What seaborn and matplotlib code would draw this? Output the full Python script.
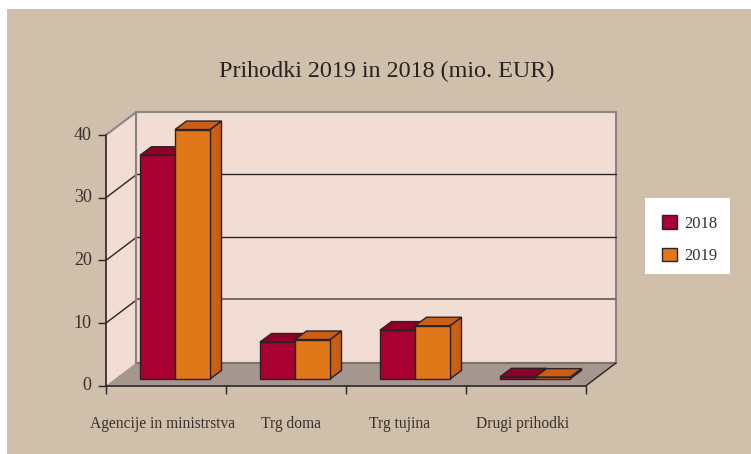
import numpy as np
import pandas as pd
import matplotlib
matplotlib.use("Agg")
import matplotlib.pyplot as plt
from matplotlib.patches import Polygon, Rectangle
from matplotlib.transforms import Affine2D
import seaborn as sns

categories = ["Agencije in ministrstva", "Trg doma", "Trg tujina", "Drugi prihodki"]
years = ["2018", "2019"]
values_2018 = [35.7, 5.9, 7.8, 0.35]
values_2019 = [39.8, 6.3, 8.5, 0.3]
y_ticks = [0, 10, 20, 30, 40]
title_text = "Prihodki 2019 in 2018 (mio. EUR)"

W, H = 751, 454
BG = "#cfbfab"; WALL = "#f1ddd4"; FLOOR = "#a59690"; EDGE = "#2b2226"; GREY = "#8b8683"; TXT = "#3a302c"
FRONT = {"2018": "#a90034", "2019": "#e0781a"}
TOP = {"2018": "#8f0029", "2019": "#c95e16"}
FONT = "Liberation Serif"

sns.set_theme(style="white")
plt.rcParams["font.family"] = FONT

df = pd.DataFrame({
    "cat": categories * 2,
    "year": [years[0]] * 4 + [years[1]] * 4,
    "val": values_2018 + values_2019,
})

fig = plt.figure(figsize=(W / 100, H / 100), dpi=100, facecolor="white")
fig.patches.append(Rectangle((7 / W, 0), 1 - 7 / W, 1 - 9 / H, transform=fig.transFigure, facecolor=BG, edgecolor="none", zorder=-10))
fig.patches.append(Rectangle((645 / W, 1 - 274 / H), 85 / W, 76 / H, transform=fig.transFigure, facecolor="white", edgecolor="none", zorder=-9))

def box(l, b_px, w, h):
    return [l / W, (H - b_px) / H, w / W, h / H]

ax = fig.add_axes(box(106, 385.7, 480, 250.7))
bx = fig.add_axes(box(115, 379, 480, 250.7))
ax.patch.set_alpha(0); bx.patch.set_alpha(0)
ax.set_xlim(-0.5, 3.5); ax.set_ylim(0, 40)

# depth of the box in data units
DX = 30 / 120
DY = 22.7 * 40 / 250.7
x0, x1 = -0.5, 3.5
ax.add_patch(Polygon([(x0, 0), (x0 + DX, DY), (x0 + DX, 40 + DY), (x0, 40)], closed=True, facecolor=WALL, edgecolor="none", clip_on=False, zorder=1))
ax.add_patch(Polygon([(x0 + DX, DY), (x1 + DX, DY), (x1 + DX, 40 + DY), (x0 + DX, 40 + DY)], closed=True, facecolor=WALL, edgecolor=GREY, lw=1.5, clip_on=False, zorder=1))
ax.add_patch(Polygon([(x0, 0), (x1, 0), (x1 + DX, DY), (x0 + DX, DY)], closed=True, facecolor=FLOOR, edgecolor="none", clip_on=False, zorder=2))
ax.plot([x0 + DX, x1 + DX], [DY, DY], color="#7d716c", lw=1.5, clip_on=False, zorder=2.1)
ax.plot([x0, x0 + DX, x0 + DX], [40, 40 + DY, DY], color=GREY, lw=1.5, clip_on=False, zorder=2.1)
ax.plot([x1, x1 + DX], [0, DY], color=EDGE, lw=1.0, clip_on=False, zorder=2.1)
for t in y_ticks[1:-1]:
    c, lw = ("#7a6e68", 1.5) if t == 10 else (EDGE, 1.0)
    ax.plot([x0 + DX, x1 + DX], [t + DY + 0.15, t + DY + 0.15], color=c, lw=lw, clip_on=False, zorder=1.5)
    ax.plot([x0, x0 + DX], [t, t + DY], color=EDGE, lw=1.0, clip_on=False, zorder=1.5)

for s in ("top", "right"):
    ax.spines[s].set_visible(False)
for s in ("left", "bottom"):
    ax.spines[s].set_color(EDGE); ax.spines[s].set_linewidth(1.2); ax.spines[s].set_zorder(3)
ax.set_yticks(y_ticks)
ax.tick_params(axis="y", length=5.8, width=1, color=EDGE, labelsize=13, labelcolor=TXT, pad=4.5, left=True)
nudge = [-0.03, 0.04, -0.05, -0.025]
ax.set_xticks(np.arange(4) + np.array(nudge))
ax.set_xticklabels(categories)
ax.set_xticks(np.arange(-0.5, 4, 1), minor=True)
ax.tick_params(axis="x", which="major", length=0, labelsize=11.2, labelcolor=TXT, pad=21.5)
ax.tick_params(axis="x", which="minor", length=5.5, width=1, color=EDGE, bottom=True)
ax.set_xlabel(""); ax.set_ylabel("")
for lab in ax.get_yticklabels():
    lab.set_transform(lab.get_transform() + Affine2D().translate(0, 2))

# bars
sns.barplot(data=df, x="cat", y="val", hue="year", hue_order=years, palette=FRONT,
            width=70 / 120, gap=0, dodge=True, saturation=1, edgecolor=EDGE, linewidth=1.0, ax=bx)
bx.set_xlim(-0.5, 3.5); bx.set_ylim(0, 40)
bx.axis("off")
handles, labels = bx.get_legend_handles_labels()
bx.get_legend().remove()
bdx = 11.5 / 120
bdy = 8.5 * 40 / 250.7
for i, (cont, yr) in enumerate(zip(bx.containers, years)):
    for p in cont.patches:
        p.set_zorder(5 + 2 * i)
        p.set_clip_on(False)
        l, r, h = p.get_x(), p.get_x() + p.get_width(), p.get_height()
        for pts, col in (([(r, 0), (r + bdx, bdy), (r + bdx, h + bdy), (r, h)], TOP[yr]),
                         ([(l, h), (r, h), (r + bdx, h + bdy), (l + bdx, h + bdy)], TOP[yr])):
            bx.add_patch(Polygon(pts, closed=True, facecolor=col, edgecolor=EDGE, lw=1.0, clip_on=False, zorder=4 + 2 * i))

fig.text(386.5 / W, 1 - 71 / H, title_text, ha="center", va="center", fontsize=17.4, color="#2a2220", family=FONT)

leg = fig.legend(handles, labels, loc="upper left", bbox_to_anchor=(647 / W, 1 - 200 / H),
                 borderaxespad=0, frameon=False,
                 fontsize=12, handlelength=0.9, handleheight=0.9, handletextpad=0.45, labelspacing=0.95, borderpad=0.9,
                 labelcolor=TXT)
fig.savefig("out.png", dpi=100, facecolor="white")
